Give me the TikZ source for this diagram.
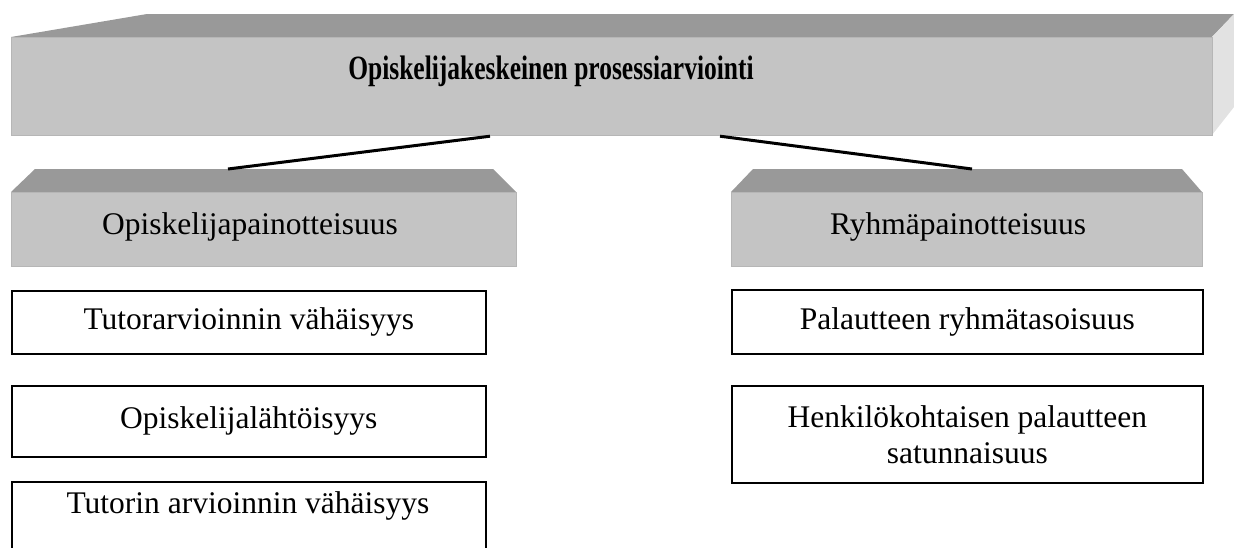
\documentclass[tikz,border=0pt]{standalone}
\usepackage{fontspec}
\setmainfont{Liberation Serif}
\usetikzlibrary{calc}
\definecolor{frontgray}{RGB}{196,196,196}
\definecolor{topgray}{RGB}{153,153,153}
\definecolor{sidegray}{RGB}{226,226,226}
\definecolor{edgegray}{RGB}{182,182,182}
\begin{document}
\begin{tikzpicture}[x=1pt,y=-1pt,
  face/.style={fill=frontgray, draw=edgegray, line width=1.2pt, anchor=north west, inner sep=0pt},
  bevel/.style={fill=topgray},
  label/.style={font=\fontsize{31.5}{36}\selectfont, inner sep=0pt, anchor=base},
  item/.style={draw=black, line width=1.6pt, fill=white, anchor=north west, inner sep=0pt,
    align=center, font=\fontsize{31.5}{36}\selectfont},
  link/.style={line width=3pt}]
\useasboundingbox (0,0) rectangle (1234,547);
\clip (0,0) rectangle (1234,547);

% top block: bevels, then front face
\fill[bevel] (11,37) -- (147,14) -- (1234,14) -- (1212,37) -- cycle;
\fill[sidegray] (1212,37) -- (1234,14) -- (1234,107) -- (1212,135) -- cycle;
\node[face, minimum width=1201pt, minimum height=98pt] (main) at (11,37) {};
\node[font=\fontsize{34}{40}\selectfont\bfseries, inner sep=0pt, anchor=base] (maintxt) at (551,79)
  {\scalebox{0.75}[1]{Opiskelijakeskeinen prosessiarviointi}};

% second level blocks
\fill[bevel] (11,192) -- (35,169) -- (493,169) -- (516,192) -- cycle;
\node[face, minimum width=505pt, minimum height=74pt] (left) at (11,192) {};
\node[label] (lefttxt) at (250,234) {Opiskelijapainotteisuus};

\fill[bevel] (731,192) -- (753,169) -- (1182,169) -- (1202,192) -- cycle;
\node[face, minimum width=471pt, minimum height=74pt] (right) at (731,192) {};
\node[label] (righttxt) at (958,234) {Ryhmäpainotteisuus};

% connectors
\draw[link] ($(main.south west)+(479,0)$) -- ($(left.north west)+(217,-23)$);
\draw[link] ($(main.south west)+(709,0)$) -- ($(right.north west)+(241,-23)$);

% left column items
\node[item, minimum width=474pt, minimum height=63pt] (l1) at (11,290) {Tutorarvioinnin vähäisyys};
\node[item, minimum width=474pt, minimum height=71pt] (l2) at (11,385) {Opiskelijalähtöisyys};
\node[item, minimum width=474pt, minimum height=90pt] (l3) at (11,481) {};
\node[label] (l3txt) at (248,513) {Tutorin arvioinnin vähäisyys};

% right column items
\node[item, minimum width=471pt, minimum height=64pt] (r1) at (731,289) {Palautteen ryhmätasoisuus};
\node[item, minimum width=471pt, minimum height=97pt] (r2) at (731,385) {Henkilökohtaisen palautteen\\satunnaisuus};
\end{tikzpicture}
\end{document}
